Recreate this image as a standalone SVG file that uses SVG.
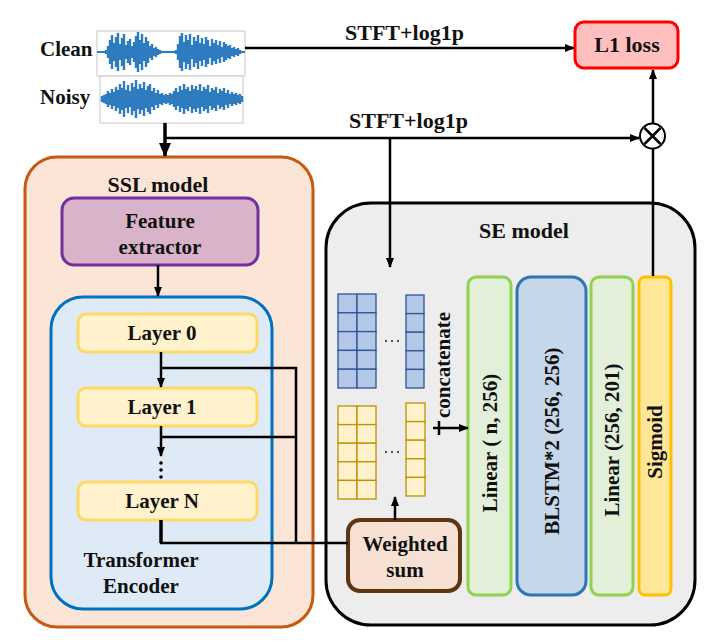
<svg xmlns="http://www.w3.org/2000/svg" width="719" height="642" viewBox="0 0 719 642">
<defs>
<marker id="ah" markerWidth="10" markerHeight="8" refX="9" refY="4" orient="auto" markerUnits="userSpaceOnUse">
<path d="M0,0 L10,4 L0,8 Z" fill="#000"/>
</marker>
<marker id="ahb" markerWidth="14" markerHeight="12" refX="13" refY="6" orient="auto" markerUnits="userSpaceOnUse">
<path d="M0,0 L14,6 L0,12 Z" fill="#000"/>
</marker>
</defs>
<style>
text{font-family:"Liberation Serif","Times New Roman",serif;font-weight:bold;fill:#111;}
.t22{font-size:22px;}
.t21{font-size:21px;}
.c{text-anchor:middle;}
.ln{stroke:#000;stroke-width:2.5;fill:none;}
.wave{stroke:#2e7bbf;stroke-width:2.4;fill:none;}
.layer{fill:#fff2cc;stroke:#ffd966;stroke-width:3;}
.blue{fill:#b4c7e7;stroke:#2f5597;stroke-width:1.3;}
.yel{fill:#fff2cc;stroke:#bf9000;stroke-width:1.3;}
.lin{fill:#e2f0d9;stroke:#92d050;stroke-width:3;}
</style>

<g id="waveforms">
<rect x="97" y="31" width="148" height="45" fill="#fff" stroke="#c8c8c8" stroke-width="1"/>
<rect x="100" y="76" width="143" height="47" fill="#fff" stroke="#c8c8c8" stroke-width="1"/>
<line x1="97" y1="52" x2="245" y2="52" stroke="#2e7bbf" stroke-width="2"/>
<path class="wave" d="M104 51V53M106 50V54M108 46V58M110 40V64M112 35V69M114 43V61M116 37V67M118 33V71M120 44V60M122 38V66M124 34V70M126 45V59M128 41V63M130 39V65M132 46V58M134 42V62M136 36V68M138 32V72M140 40V64M142 34V70M144 43V61M146 37V67M148 41V63M150 46V58M152 44V60M154 48V56M156 47V57M158 49V55M160 50V54M162 51V53M176 50V54M178 44V60M180 36V68M182 33V71M184 42V62M186 35V69M188 40V64M190 34V70M192 45V59M194 37V67M196 41V63M198 35V69M200 43V61M202 38V66M204 44V60M206 37V67M208 40V64M210 46V58M212 39V65M214 43V61M216 40V64M218 45V59M220 41V63M222 47V57M224 42V62M226 44V60M228 46V58M230 45V59M232 48V56M234 47V57M236 49V55M238 48V56M240 50V54M242 51V53"/>
<path class="wave" d="M102 96V102M104 95V103M106 94V104M108 91V107M110 93V105M112 89V109M114 92V106M116 87V111M118 90V108M120 84V114M122 88V110M124 81V117M126 90V108M128 85V113M130 91V107M132 83V115M134 87V111M136 80V118M138 89V109M140 84V114M142 88V110M144 82V116M146 90V108M148 86V112M150 84V114M152 91V107M154 88V110M156 93V105M158 90V108M160 94V104M162 93V105M164 95V103M166 94V104M168 95V103M170 93V105M172 94V104M174 91V107M176 88V110M178 92V106M180 86V112M182 90V108M184 84V114M186 89V109M188 87V111M190 91V107M192 85V113M194 89V109M196 86V112M198 90V108M200 84V114M202 91V107M204 87V111M206 89V109M208 85V113M210 92V106M212 88V110M214 90V108M216 87V111M218 93V105M220 89V109M222 91V107M224 88V110M226 93V105M228 90V108M230 94V104M232 92V106M234 94V104M236 93V105M238 95V103M240 94V104M242 96V102"/>
</g>
<g id="labels-io">
<text class="t21" x="40" y="56">Clean</text>
<text class="t21" x="40" y="104">Noisy</text>
<text class="t22" x="345" y="40">STFT+log1p</text>
<text class="t22" x="349" y="128">STFT+log1p</text>
</g>

<g id="l1loss">
<rect x="575" y="22" width="103" height="46" rx="9" fill="#ffbfbf" stroke="#ff0000" stroke-width="3"/>
<text class="t22 c" x="627" y="52">L1 loss</text>
</g>

<g id="multiply">
<circle cx="652.5" cy="136" r="12.5" fill="#fff" stroke="#000" stroke-width="2"/>
<path d="M644.5 128L660.5 144M660.5 128L644.5 144" stroke="#000" stroke-width="2.5"/>
</g>

<g id="ssl-model">
<rect x="25" y="157" width="288" height="470" rx="32" fill="#fbe5d6" stroke="#c55a11" stroke-width="3"/>
<text class="t22 c" x="158" y="192">SSL model</text>
</g>
<g id="feature-extractor">
<rect x="62" y="198" width="196" height="67" rx="12" fill="#d8b3ca" stroke="#7030a0" stroke-width="3"/>
<text class="t21 c" x="160" y="228">Feature</text>
<text class="t21 c" x="160" y="254">extractor</text>
</g>
<g id="transformer-encoder">
<rect x="51" y="297" width="221" height="312" rx="32" fill="#deebf7" stroke="#0070c0" stroke-width="3"/>
<text class="t21 c" x="141" y="567">Transformer</text>
<text class="t21 c" x="141" y="593">Encoder</text>
</g>
<g id="layer0">
<rect class="layer" x="78" y="314" width="179" height="38" rx="8"/>
<text class="t21 c" x="162" y="340">Layer 0</text>
</g>
<g id="layer1">
<rect class="layer" x="78" y="388" width="179" height="38" rx="8"/>
<text class="t21 c" x="162" y="414">Layer 1</text>
</g>
<g id="layerN">
<rect class="layer" x="78" y="482" width="179" height="38" rx="8"/>
<text class="t21 c" x="162" y="508">Layer N</text>
</g>

<g id="se-model">
<rect x="326" y="203" width="369" height="422" rx="45" fill="#ededed" stroke="#000" stroke-width="3"/>
<text class="t22 c" x="524" y="238">SE model</text>
</g>

<g id="features">
<rect class="blue" x="338" y="294" width="19" height="18.8"/><rect class="blue" x="357" y="294" width="19" height="18.8"/>
<rect class="blue" x="338" y="312.8" width="19" height="18.8"/><rect class="blue" x="357" y="312.8" width="19" height="18.8"/>
<rect class="blue" x="338" y="331.6" width="19" height="18.8"/><rect class="blue" x="357" y="331.6" width="19" height="18.8"/>
<rect class="blue" x="338" y="350.4" width="19" height="18.8"/><rect class="blue" x="357" y="350.4" width="19" height="18.8"/>
<rect class="blue" x="338" y="369.2" width="19" height="18.8"/><rect class="blue" x="357" y="369.2" width="19" height="18.8"/>
<rect class="blue" x="406" y="295" width="18" height="18.6"/>
<rect class="blue" x="406" y="313.6" width="18" height="18.6"/>
<rect class="blue" x="406" y="332.2" width="18" height="18.6"/>
<rect class="blue" x="406" y="350.8" width="18" height="18.6"/>
<rect class="blue" x="406" y="369.4" width="18" height="18.6"/>
<rect class="yel" x="338" y="406" width="19" height="18.6"/><rect class="yel" x="357" y="406" width="19" height="18.6"/>
<rect class="yel" x="338" y="424.6" width="19" height="18.6"/><rect class="yel" x="357" y="424.6" width="19" height="18.6"/>
<rect class="yel" x="338" y="443.2" width="19" height="18.6"/><rect class="yel" x="357" y="443.2" width="19" height="18.6"/>
<rect class="yel" x="338" y="461.8" width="19" height="18.6"/><rect class="yel" x="357" y="461.8" width="19" height="18.6"/>
<rect class="yel" x="338" y="480.4" width="19" height="18.6"/><rect class="yel" x="357" y="480.4" width="19" height="18.6"/>
<rect class="yel" x="406" y="403" width="19" height="18.6"/>
<rect class="yel" x="406" y="421.6" width="19" height="18.6"/>
<rect class="yel" x="406" y="440.2" width="19" height="18.6"/>
<rect class="yel" x="406" y="458.8" width="19" height="18.6"/>
<rect class="yel" x="406" y="477.4" width="19" height="18.6"/>
<g fill="#222">
<circle cx="386" cy="341" r="1"/><circle cx="392" cy="341" r="1"/><circle cx="398" cy="341" r="1"/>
<circle cx="386" cy="452" r="1"/><circle cx="392" cy="452" r="1"/><circle cx="398" cy="452" r="1"/>
</g>
<text class="t21 c" transform="rotate(-90 443 365)" x="443" y="372">concatenate</text>
</g>

<g id="weighted-sum">
<rect x="348" y="520" width="112" height="71" rx="12" fill="#f5e0d3" stroke="#5e3513" stroke-width="4"/>
<text class="t21 c" x="405" y="551">Weighted</text>
<text class="t21 c" x="405" y="577">sum</text>
</g>

<g id="linear1">
<rect class="lin" x="468" y="277" width="43" height="318" rx="8"/>
<text class="t21 c" transform="rotate(-90 489.5 443)" x="489.5" y="450">Linear ( n, 256)</text>
</g>
<g id="blstm">
<rect x="517" y="277" width="69" height="318" rx="14" fill="#c5d7e8" stroke="#2e75b6" stroke-width="3"/>
<text class="t21 c" transform="rotate(-90 551.5 441)" x="551.5" y="448">BLSTM*2 (256, 256)</text>
</g>
<g id="linear2">
<rect class="lin" x="591" y="277" width="42" height="318" rx="8"/>
<text class="t21 c" transform="rotate(-90 612 440)" x="612" y="447">Linear (256, 201)</text>
</g>
<g id="sigmoid">
<rect x="639" y="277" width="32" height="318" rx="6" fill="#ffe699" stroke="#ffc000" stroke-width="3"/>
<text class="t21 c" transform="rotate(-90 655 442)" x="655" y="449">Sigmoid</text>
</g>

<g id="connectors">
<line class="ln" x1="245" y1="48" x2="574" y2="48" marker-end="url(#ah)"/>
<line x1="165" y1="123" x2="165" y2="156" stroke="#000" stroke-width="3.5" marker-end="url(#ahb)"/>
<line class="ln" x1="164" y1="138" x2="639" y2="138" marker-end="url(#ah)"/>
<line class="ln" x1="390" y1="138" x2="390" y2="267" marker-end="url(#ah)"/>
<line class="ln" x1="653" y1="123" x2="653" y2="70" marker-end="url(#ah)"/>
<line class="ln" x1="653" y1="276" x2="653" y2="149"/>
<line class="ln" x1="158" y1="265" x2="158" y2="296" marker-end="url(#ah)"/>
<line class="ln" x1="161" y1="352" x2="161" y2="387" marker-end="url(#ah)"/>
<line class="ln" x1="161" y1="426" x2="161" y2="456" marker-end="url(#ah)"/>
<g fill="#000"><circle cx="161" cy="463" r="1.8"/><circle cx="161" cy="470" r="1.8"/><circle cx="161" cy="477" r="1.8"/></g>
<polyline class="ln" points="161,368 296,368 296,543"/>
<line class="ln" x1="161" y1="437" x2="296" y2="437"/>
<line x1="161" y1="520" x2="161" y2="543" stroke="#000" stroke-width="3.5"/>
<line class="ln" x1="160" y1="543" x2="348" y2="543"/>
<line class="ln" x1="395" y1="520" x2="395" y2="497" marker-end="url(#ah)"/>
<line class="ln" x1="439" y1="421" x2="439" y2="435"/>
<line class="ln" x1="433" y1="428" x2="468" y2="428" marker-end="url(#ah)"/>
</g>
</svg>
